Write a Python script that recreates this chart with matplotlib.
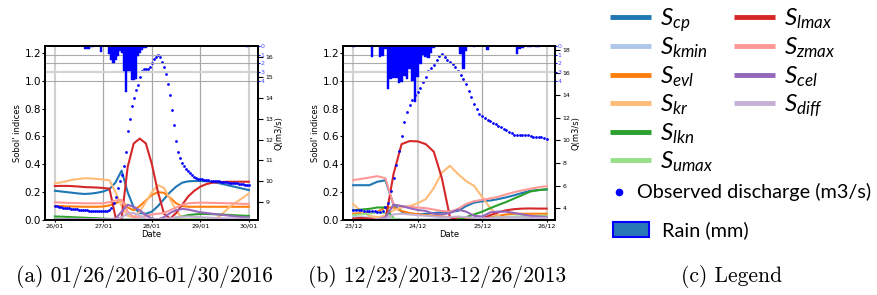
import numpy as np
import pandas as pd
import matplotlib
matplotlib.use("Agg")
import matplotlib.pyplot as plt
import matplotlib.dates as mdates
from matplotlib.patches import Rectangle

plt.rcParams["mathtext.fontset"] = "custom"
plt.rcParams["mathtext.it"] = "Lato:italic"
plt.rcParams["mathtext.rm"] = "Lato"

################################################################################
# Data
################################################################################

params = ["cp", "kmin", "evl", "kr", "lkn", "umax", "lmax", "zmax", "cel", "diff"]
colors = ["#1f77b4", "#aec7e8", "#ff7f0e", "#ffbb78", "#2ca02c",
          "#98df8a", "#d62728", "#ff9896", "#9467bd", "#c5b0d5"]

# --- (a) 26/01/2016 - 30/01/2016, Sobol' indices every 3 hours
t_a = pd.date_range("2016-01-26", "2016-01-30", freq="3h")
scp_a = [0.21, 0.205, 0.2, 0.195, 0.19, 0.187, 0.19, 0.196, 0.205, 0.222, 0.27,
         0.355, 0.2, 0.09, 0.05, 0.045, 0.06, 0.1, 0.15, 0.2, 0.24, 0.268, 0.278,
         0.28, 0.28, 0.278, 0.272, 0.265, 0.255, 0.245, 0.235, 0.225, 0.215]
skmin_a = [0.005] * 33
sevl_a = [0.1, 0.1, 0.098, 0.097, 0.096, 0.095, 0.095, 0.095, 0.097, 0.105, 0.12,
          0.14, 0.09, 0.07, 0.1, 0.14, 0.18, 0.2, 0.195, 0.16, 0.12, 0.1, 0.095,
          0.095, 0.095, 0.095, 0.095, 0.095, 0.095, 0.095, 0.095, 0.095, 0.095]
skr_a = [0.263, 0.27, 0.28, 0.29, 0.295, 0.3, 0.298, 0.295, 0.29, 0.285, 0.2,
         0.1, 0.03, 0.02, 0.06, 0.13, 0.2, 0.25, 0.23, 0.15, 0.07, 0.01, 0.0,
         0.0, 0.0, 0.0, 0.005, 0.02, 0.06, 0.1, 0.13, 0.16, 0.19]
slkn_a = [0.025, 0.024, 0.022, 0.02, 0.018, 0.016, 0.014, 0.012, 0.01, 0.008,
          0.005, 0.002, 0.0, 0.0, 0.0, 0.0, 0.0, 0.0, 0.0, 0.005, 0.015, 0.025,
          0.035, 0.04, 0.043, 0.043, 0.042, 0.04, 0.038, 0.036, 0.033, 0.031, 0.03]
sumax_a = [0.01, 0.01, 0.009, 0.009, 0.008, 0.008, 0.007, 0.007, 0.006, 0.005,
           0.004, 0.003, 0.002, 0.002, 0.002, 0.002, 0.002, 0.002, 0.002, 0.003,
           0.004, 0.005, 0.006, 0.007, 0.008, 0.008, 0.008, 0.008, 0.008, 0.008,
           0.008, 0.008, 0.008]
slmax_a = [0.244, 0.245, 0.245, 0.243, 0.24, 0.236, 0.235, 0.233, 0.23, 0.225,
           0.02, 0.01, 0.38, 0.55, 0.585, 0.55, 0.4, 0.2, 0.045, 0.01, 0.05, 0.11,
           0.17, 0.21, 0.24, 0.258, 0.268, 0.272, 0.274, 0.275, 0.275, 0.275, 0.275]
szmax_a = [0.127, 0.125, 0.123, 0.122, 0.121, 0.12, 0.12, 0.12, 0.12, 0.128, 0.14,
           0.145, 0.06, 0.02, 0.02, 0.03, 0.04, 0.045, 0.05, 0.07, 0.09, 0.11,
           0.12, 0.123, 0.124, 0.124, 0.123, 0.122, 0.121, 0.12, 0.118, 0.116, 0.115]
scel_a = [0.005, 0.005, 0.005, 0.005, 0.005, 0.005, 0.005, 0.005, 0.005, 0.005,
          0.01, 0.06, 0.11, 0.095, 0.07, 0.035, 0.01, 0.005, 0.02, 0.05, 0.07,
          0.08, 0.075, 0.065, 0.055, 0.05, 0.045, 0.04, 0.035, 0.03, 0.025, 0.02, 0.018]
sdiff_a = [0.003, 0.003, 0.003, 0.003, 0.003, 0.003, 0.003, 0.003, 0.003, 0.003,
           0.005, 0.02, 0.045, 0.05, 0.03, 0.01, 0.005, 0.005, 0.008, 0.012, 0.02,
           0.023, 0.025, 0.022, 0.02, 0.018, 0.016, 0.014, 0.012, 0.011, 0.01, 0.009, 0.008]

# hourly observed discharge (m3/s) and rain (mm)
th_a = pd.date_range("2016-01-26", "2016-01-30", freq="1h")
q_a = [8.80, 8.78, 8.76, 8.74, 8.72, 8.70, 8.69, 8.68, 8.66, 8.65, 8.64, 8.63,
       8.62, 8.61, 8.60, 8.59, 8.58, 8.57, 8.57, 8.56, 8.56, 8.55, 8.55, 8.55,
       8.55, 8.55, 8.56, 8.58, 8.68, 8.92, 9.25, 9.65, 9.98, 10.3, 10.75, 11.4,
       12.4, 13.0, 13.6, 14.0, 14.4, 14.65, 15.0, 15.3, 15.4, 15.4, 15.42, 15.5,
       15.7, 15.88, 16.0, 16.1, 16.0, 15.75, 15.5, 15.15, 14.7, 14.15, 13.45, 12.7,
       11.95, 11.4, 11.1, 10.88, 10.72, 10.6, 10.48, 10.38, 10.28, 10.2, 10.16, 10.12,
       10.1, 10.08, 10.06, 10.05, 10.03, 10.01, 10.0, 9.99, 9.98, 9.98, 9.97, 9.96,
       9.95, 9.94, 9.93, 9.92, 9.91, 9.9, 9.89, 9.88, 9.86, 9.85, 9.83, 9.82, 9.80]
rain_a = [0, 0, 0, 0, 0, 0, 0, 0, 0, 0, 0, 0, 0, 0, 0, 0.35, 0.35, 0.35, 0.1, 0.1,
          0, 0, 0, 0.7, 0, 0, 0, 0.95, 1.6, 2.0, 1.6, 1.1, 0.6, 0.75, 2.85, 5.3,
          2.9, 2.85, 3.9, 3.95, 3.8, 1.2, 0.8, 0.5, 0.2, 0.2, 0, 0, 0, 0,
          0, 0, 0, 0, 0, 0, 0, 0, 0, 0, 0, 0, 0, 0, 0, 0, 0, 0, 0, 0,
          0, 0, 0, 0, 0, 0, 0, 0, 0, 0, 0, 0, 0, 0, 0, 0, 0, 0, 0, 0,
          0, 0, 0, 0, 0, 0.15, 0]

# --- (b) 23/12/2013 - 26/12/2013
t_b = pd.date_range("2013-12-23", "2013-12-26", freq="3h")
scp_b = [0.25, 0.25, 0.25, 0.275, 0.285, 0.11, 0.06, 0.045, 0.04, 0.045, 0.05,
         0.055, 0.06, 0.065, 0.1, 0.125, 0.135, 0.14, 0.15, 0.163, 0.178, 0.195,
         0.21, 0.215, 0.22]
skmin_b = [0.02, 0.02, 0.018, 0.016, 0.012, 0.008, 0.006, 0.005, 0.005, 0.005,
           0.005, 0.005, 0.005, 0.005, 0.005, 0.005, 0.005, 0.005, 0.005, 0.005,
           0.005, 0.005, 0.005, 0.005, 0.005]
sevl_b = [0.045, 0.05, 0.055, 0.06, 0.09, 0.09, 0.065, 0.05, 0.042, 0.035, 0.03,
          0.025, 0.02, 0.015, 0.01, 0.005, 0.01, 0.02, 0.03, 0.04, 0.045, 0.045,
          0.045, 0.045, 0.045]
skr_b = [0.115, 0.06, 0.03, 0.02, 0.03, 0.07, 0.09, 0.1, 0.12, 0.15, 0.23, 0.34,
         0.39, 0.33, 0.28, 0.245, 0.165, 0.085, 0.03, 0.0, 0.0, 0.0, 0.0, 0.0, 0.0]
slkn_b = [0.07, 0.075, 0.08, 0.09, 0.09, 0.01, 0.0, 0.0, 0.0, 0.0, 0.0, 0.0, 0.0,
          0.005, 0.02, 0.04, 0.06, 0.085, 0.108, 0.13, 0.155, 0.18, 0.205, 0.215, 0.22]
sumax_b = [0.035, 0.04, 0.045, 0.055, 0.05, 0.01, 0.0, 0.0, 0.0, 0.0, 0.0, 0.0,
           0.0, 0.0, 0.0, 0.005, 0.01, 0.015, 0.02, 0.022, 0.025, 0.027, 0.028,
           0.03, 0.03]
slmax_b = [0.01, 0.015, 0.01, 0.0, 0.0, 0.33, 0.545, 0.567, 0.565, 0.545, 0.49,
           0.3, 0.02, 0.0, 0.0, 0.0, 0.01, 0.035, 0.055, 0.07, 0.078, 0.082, 0.083,
           0.082, 0.082]
szmax_b = [0.287, 0.295, 0.305, 0.315, 0.3, 0.11, 0.1, 0.095, 0.09, 0.085, 0.075,
           0.065, 0.06, 0.08, 0.115, 0.135, 0.145, 0.155, 0.167, 0.185, 0.2, 0.213,
           0.225, 0.235, 0.243]
scel_b = [0.0, 0.0, 0.0, 0.0, 0.02, 0.11, 0.1, 0.085, 0.072, 0.065, 0.045, 0.04,
          0.05, 0.075, 0.06, 0.03, 0.025, 0.055, 0.06, 0.06, 0.05, 0.04, 0.03,
          0.025, 0.022]
sdiff_b = [0.0, 0.0, 0.0, 0.0, 0.01, 0.04, 0.045, 0.04, 0.035, 0.03, 0.025, 0.02,
           0.02, 0.025, 0.02, 0.015, 0.012, 0.015, 0.018, 0.02, 0.02, 0.018, 0.016,
           0.015, 0.015]

th_b = pd.date_range("2013-12-23", "2013-12-26", freq="1h")
q_b = [3.85, 3.84, 3.83, 3.82, 3.8, 3.78, 3.76, 3.74, 3.72, 3.7, 3.7, 3.8,
       4.1, 4.45, 5.5, 6.7, 7.8, 9.1, 10.4, 11.6, 12.5, 13.1, 13.55, 14.0,
       14.3, 14.65, 15.2, 15.65, 16.1, 16.4, 16.7, 17.1, 17.45, 17.6, 17.4, 17.15,
       16.95, 16.75, 16.45, 16.15, 15.8, 15.4, 14.95, 14.4, 13.85, 13.25, 12.75, 12.35,
       12.15, 11.96, 11.8, 11.68, 11.55, 11.42, 11.3, 11.15, 11.0, 10.88, 10.75, 10.62,
       10.52, 10.48, 10.48, 10.48, 10.47, 10.46, 10.4, 10.33, 10.3, 10.28, 10.26, 10.2,
       10.12]
rain_b = [0.15, 0, 0, 0, 0, 0, 0, 1.3, 0, 0, 1.3, 1.1, 0.3, 4.9, 3.8, 3.7, 3.7,
          4.2, 4.1, 3.5, 3.8, 2.7, 4.0, 6.4, 3.6, 2.1, 1.0, 1.3, 1.4, 0.8, 0.2,
          0, 0, 0, 0, 0, 0, 0, 0, 0, 0.9, 2.7, 0.6, 0, 0, 0.1, 0, 0, 0, 0,
          0.45, 0, 0, 0, 0, 0, 0, 0, 0, 0, 0, 0.95, 0.35, 0.2, 0, 0.1, 0.1, 0,
          0.1, 0.1, 0, 0, 0]

sobol_a = [scp_a, skmin_a, sevl_a, skr_a, slkn_a, sumax_a, slmax_a, szmax_a, scel_a, sdiff_a]
sobol_b = [scp_b, skmin_b, sevl_b, skr_b, slkn_b, sumax_b, slmax_b, szmax_b, scel_b, sdiff_b]

captions = ["(a) 01/26/2016-01/30/2016", "(b) 12/23/2013-12/26/2013", "(c) Legend"]

################################################################################
# Figure
################################################################################

W, H = 878, 295
fig = plt.figure(figsize=(W / 100, H / 100), dpi=100)


def px_axes(x0, y0, x1, y1):
    return fig.add_axes([x0 / W, 1 - y1 / H, (x1 - x0) / W, (y1 - y0) / H])


def draw_panel(ax, t, sobol, th, q, rain, q_lim, q_ticks, x_lim, dark_days):
    for vals, col in zip(sobol, colors):
        ax.plot(t, vals, color=col, lw=1.5)
    ax.set_ylim(0, 1.25)
    ax.set_yticks([0, 0.2, 0.4, 0.6, 0.8, 1.0, 1.2])
    ax.set_xlim(*x_lim)
    ax.xaxis.set_major_locator(mdates.DayLocator())
    ax.xaxis.set_major_formatter(mdates.DateFormatter("%d/%m"))
    ax.tick_params(axis="y", labelsize=7.5, length=2.2, pad=0.5)
    ax.tick_params(axis="x", labelsize=4.6, length=1.5, pad=1.2)
    ax.set_ylabel("Sobol' indices", fontsize=6, labelpad=2)
    ax.set_xlabel("Date", fontsize=6, labelpad=1)
    for d in ax.get_xticks():
        dark = mdates.num2date(d).day in dark_days
        ax.axvline(d, color="#a8a8a8" if dark else "#d0d0d0",
                   lw=0.9 if dark else 1.5, zorder=0)

    ax2 = ax.twinx()
    ax2.scatter(th, q, s=4, color="blue", lw=0, zorder=3)
    ax2.set_ylim(*q_lim)
    ax2.set_yticks(q_ticks)
    ax2.tick_params(axis="y", labelsize=4.5, length=3.5, pad=2)
    ax2.set_ylabel("Q(m3/s)", fontsize=6, labelpad=1)

    ax3 = ax.twinx()
    ax3.bar(th, rain, width=1 / 24, color="blue", edgecolor="blue", lw=0.3)
    ax3.set_ylim(20, 0)
    ax3.set_yticks([0, 1, 2, 3, 4])
    ax3.tick_params(axis="y", labelsize=4.5, labelcolor="#4a4aff", color="blue",
                    length=1.5, pad=0.5)
    for r in [1, 2, 3, 4]:
        ax3.axhline(r, color="#d3d3d3" if r == 3 else "#ababab",
                    lw=1.6 if r == 3 else 0.8, zorder=0)
    for a in (ax, ax2, ax3):
        for s in a.spines.values():
            s.set_linewidth(1.3)


ax_a = px_axes(45, 46, 258, 220)
draw_panel(ax_a, t_a, sobol_a, th_a, q_a, rain_a, (8.12, 16.52), range(9, 17),
           (pd.Timestamp("2016-01-26") - pd.Timedelta(hours=4.9),
            pd.Timestamp("2016-01-30") + pd.Timedelta(hours=4.5)), [27, 28, 29])

ax_b = px_axes(343, 46, 555, 220)
draw_panel(ax_b, t_b, sobol_b, th_b, q_b, rain_b, (2.96, 18.35), range(4, 19, 2),
           (pd.Timestamp("2013-12-23") - pd.Timedelta(hours=3.8),
            pd.Timestamp("2013-12-26") + pd.Timedelta(hours=3.1)), [25])

# legend panel, laid out in pixels
leg = fig.add_axes([0, 0, 1, 1])
leg.set_xlim(0, W)
leg.set_ylim(H, 0)
leg.set_axis_off()
for i, (name, col) in enumerate(zip(params, colors)):
    x0 = 610 if i < 6 else 734
    y = 17.3 + (i % 6) * 28.6
    leg.plot([x0, x0 + 41], [y, y], color=col, lw=3.5, solid_capstyle="butt")
    leg.text(x0 + 50, y + 8.5, f"$S_{{{name}}}$", fontsize=17.5, va="baseline")
leg.plot([619], [192], "o", color="blue", ms=4.5)
leg.text(637, 192, "Observed discharge (m3/s)", fontsize=14.3, family="Lato",
         va="center")
leg.add_patch(Rectangle((613, 222), 36, 15, facecolor="#2878b8", edgecolor="blue", lw=1.5))
leg.text(662, 230, "Rain (mm)", fontsize=14.3, family="Lato", va="center")

for cx, txt in zip([144, 437, 732], captions):
    fig.text(cx / W, 1 - 282.3 / H, txt, family="cmr10", fontsize=15.5,
             ha="center", va="baseline")

fig.savefig("out.png", dpi=100)
